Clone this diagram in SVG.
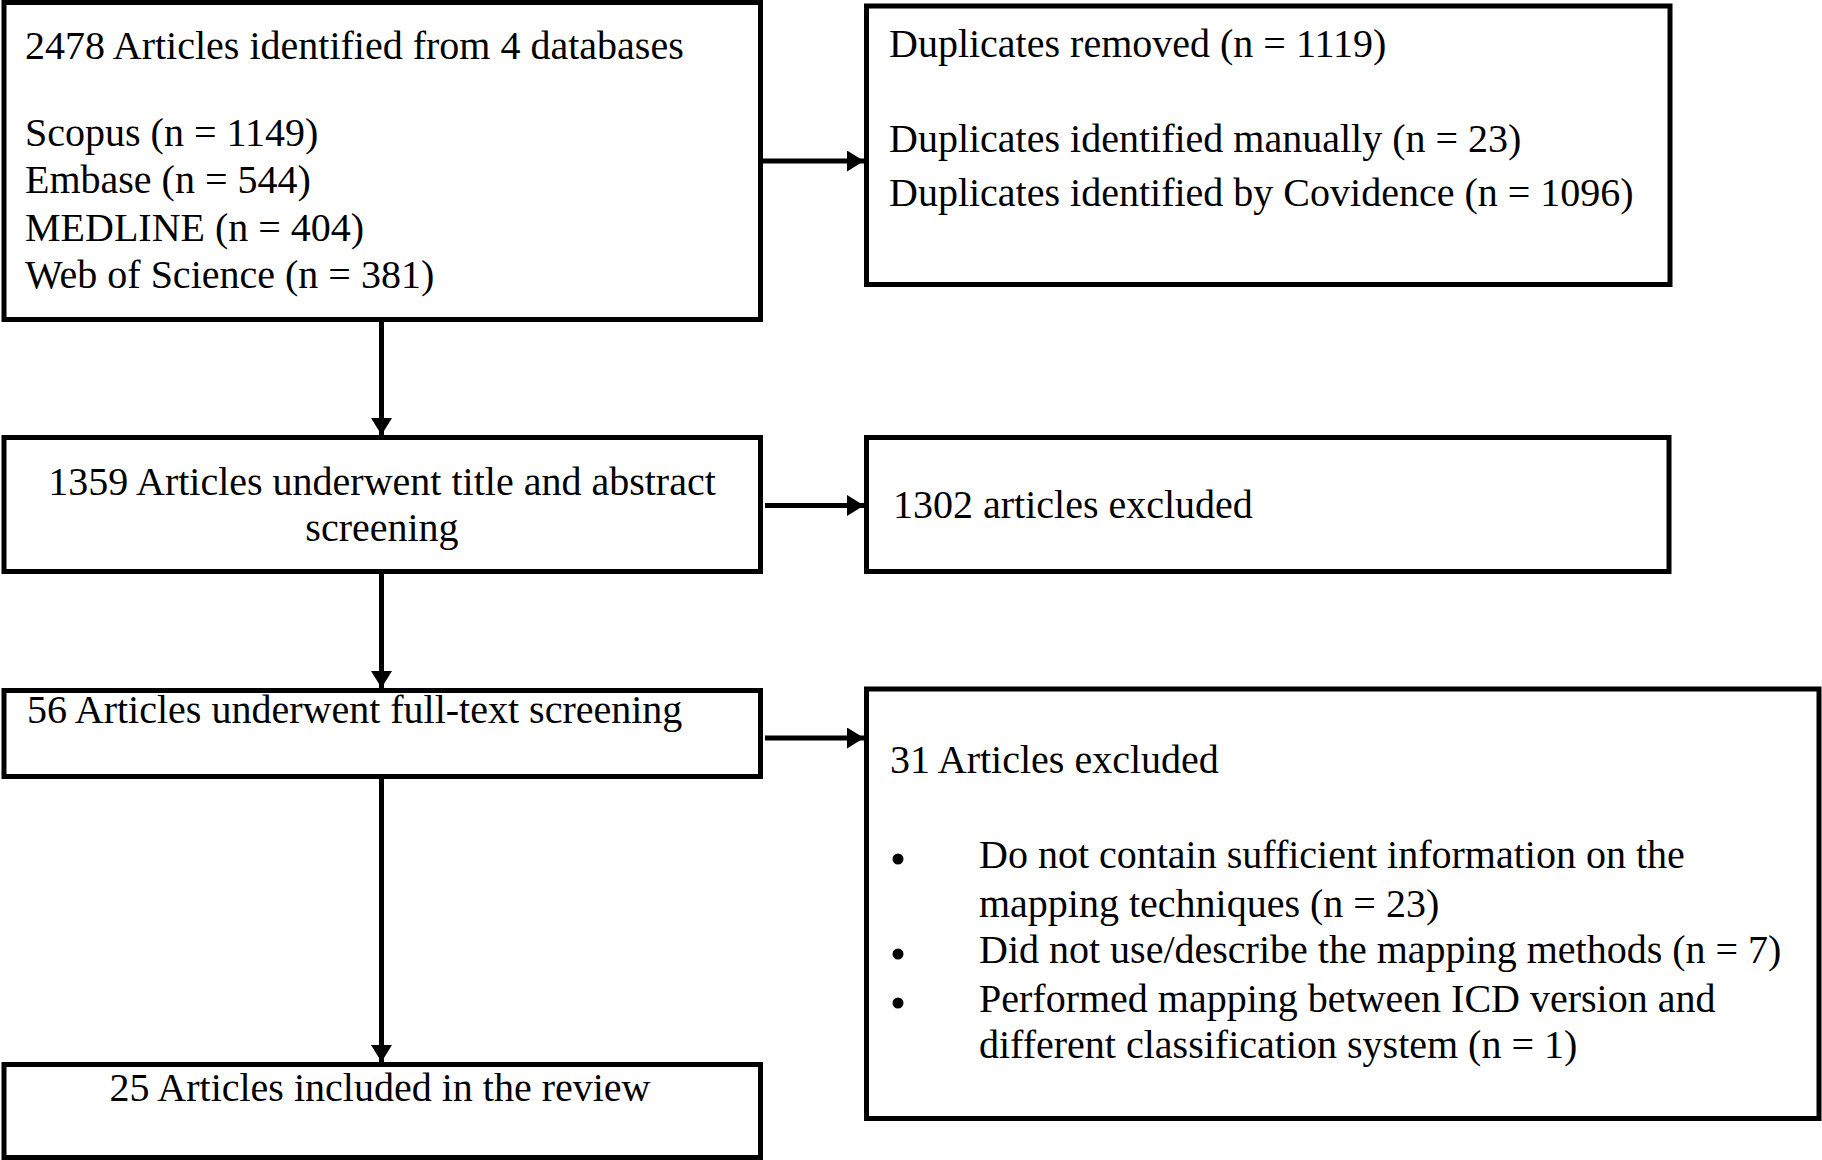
<svg xmlns="http://www.w3.org/2000/svg" width="1822" height="1160" viewBox="0 0 1822 1160">
<style>
.box{fill:#fff;stroke:#000;stroke-width:5}
.t{font-family:"Liberation Serif","Times New Roman",serif;font-size:40px;fill:#000}
.c{text-anchor:middle}
.ln{stroke:#000;stroke-width:5;fill:none}
.bul{fill:#000}
</style>
<defs>
<marker id="ah" markerUnits="userSpaceOnUse" markerWidth="18" markerHeight="22" refX="17" refY="10.5" orient="auto">
<path d="M0,0 L17,10.5 L0,21 z" fill="#000"/>
</marker>
</defs>
<rect width="1822" height="1160" fill="#fff"/>
<g id="connectors">
<line class="ln" x1="760" y1="161" x2="864" y2="161" marker-end="url(#ah)"/>
<line class="ln" x1="381.5" y1="319" x2="381.5" y2="435" marker-end="url(#ah)"/>
<line class="ln" x1="765" y1="505.5" x2="864" y2="505.5" marker-end="url(#ah)"/>
<line class="ln" x1="381.5" y1="572" x2="381.5" y2="688" marker-end="url(#ah)"/>
<line class="ln" x1="765" y1="738" x2="864" y2="738" marker-end="url(#ah)"/>
<line class="ln" x1="381.5" y1="777" x2="381.5" y2="1062" marker-end="url(#ah)"/>
</g>
<g id="identified">
<rect class="box" x="4" y="2.5" width="756.5" height="317"/>
<text class="t" x="25" y="59">2478 Articles identified from 4 databases</text>
<text class="t" x="25" y="146">Scopus (n = 1149)</text>
<text class="t" x="25" y="193">Embase (n = 544)</text>
<text class="t" x="25" y="240.5">MEDLINE (n = 404)</text>
<text class="t" x="25" y="287.5">Web of Science (n = 381)</text>
</g>
<g id="duplicates">
<rect class="box" x="866.5" y="6" width="803.5" height="278.5"/>
<text class="t" x="889" y="57">Duplicates removed (n = 1119)</text>
<text class="t" x="889" y="152">Duplicates identified manually (n = 23)</text>
<text class="t" x="889" y="205.5">Duplicates identified by Covidence (n = 1096)</text>
</g>
<g id="title-abstract">
<rect class="box" x="4" y="437.5" width="756.5" height="134"/>
<text class="t c" x="382" y="495">1359 Articles underwent title and abstract</text>
<text class="t c" x="382" y="541">screening</text>
</g>
<g id="excluded-1302">
<rect class="box" x="866.5" y="437.5" width="802.5" height="134"/>
<text class="t" x="893" y="518">1302 articles excluded</text>
</g>
<g id="full-text">
<rect class="box" x="4" y="690.5" width="756.5" height="86"/>
<text class="t" x="27" y="723">56 Articles underwent full-text screening</text>
</g>
<g id="excluded-31">
<rect class="box" x="866.5" y="689" width="952.5" height="429.5"/>
<text class="t" x="890" y="773">31 Articles excluded</text>
<circle class="bul" cx="898" cy="859" r="5.5"/>
<text class="t" x="979" y="868">Do not contain sufficient information on the</text>
<text class="t" x="979" y="917">mapping techniques (n = 23)</text>
<circle class="bul" cx="898" cy="954" r="5.5"/>
<text class="t" x="979" y="963">Did not use/describe the mapping methods (n = 7)</text>
<circle class="bul" cx="898" cy="1003" r="5.5"/>
<text class="t" x="979" y="1012">Performed mapping between ICD version and</text>
<text class="t" x="979" y="1058">different classification system (n = 1)</text>
</g>
<g id="included">
<rect class="box" x="4" y="1064.5" width="756.5" height="93"/>
<text class="t c" x="380" y="1101">25 Articles included in the review</text>
</g>
</svg>
